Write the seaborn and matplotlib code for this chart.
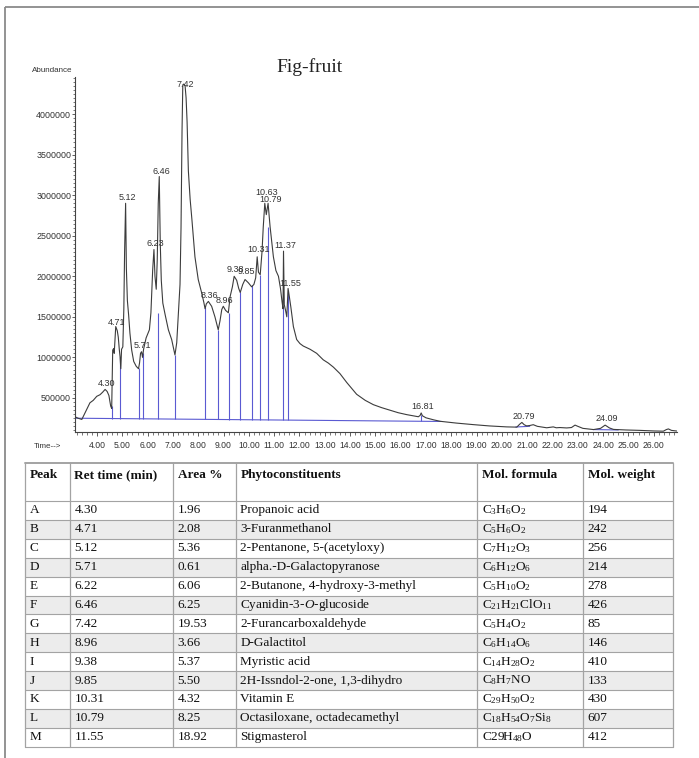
import numpy as np
import pandas as pd
import matplotlib
matplotlib.use("Agg")
import matplotlib.pyplot as plt
import seaborn as sns
from matplotlib.ticker import MultipleLocator, FuncFormatter, FormatStrFormatter
from matplotlib.patches import Rectangle
from matplotlib import font_manager as fm

# ---------------- chromatogram data ----------------
trace_time = [3.15, 3.25, 3.40, 3.50, 3.59, 3.72, 3.85, 3.99, 4.12, 4.22, 4.32, 4.40, 4.47, 4.54, 4.58,
              4.60, 4.62, 4.66, 4.68, 4.74, 4.80, 4.84, 4.88, 4.91, 4.94, 4.97, 5.02, 5.06, 5.09, 5.13,
              5.16, 5.20, 5.25, 5.30, 5.37, 5.45, 5.55, 5.64, 5.68, 5.72, 5.76, 5.80, 5.84, 5.94, 6.02,
              6.07, 6.13, 6.20, 6.25, 6.29, 6.34, 6.38, 6.42, 6.46, 6.50, 6.54, 6.60, 6.69, 6.82, 6.95,
              7.08, 7.15, 7.21, 7.28, 7.32, 7.36, 7.39, 7.43, 7.48, 7.52, 7.56, 7.61, 7.68, 7.75, 7.87,
              8.00, 8.14, 8.22, 8.27, 8.32, 8.40, 8.53, 8.66, 8.79, 8.86, 8.93, 8.99, 9.08, 9.19, 9.26,
              9.35, 9.42, 9.52, 9.60, 9.66, 9.76, 9.85, 9.98, 10.11, 10.20, 10.27, 10.33, 10.38, 10.45,
              10.52, 10.57, 10.63, 10.69, 10.76, 10.84, 10.97, 11.07, 11.17, 11.25, 11.31, 11.35, 11.37,
              11.40, 11.45, 11.50, 11.55, 11.60, 11.66, 11.76, 11.89, 12.02, 12.15, 12.42, 12.68, 12.94,
              13.14, 13.34, 13.60, 13.87, 14.26, 14.60, 14.92, 15.25, 15.58, 15.90, 16.24, 16.50, 16.70,
              16.77, 16.81, 16.86, 17.00, 17.30, 17.56, 18.20, 18.87, 19.50, 20.19, 20.59, 20.70, 20.79,
              20.88, 20.98, 21.10, 21.24, 21.40, 21.77, 22.03, 22.15, 22.29, 22.56, 22.75, 22.89, 23.00,
              23.20, 23.62, 23.90, 24.08, 24.25, 24.41, 24.90, 25.46, 26.00, 26.38, 26.50, 26.58, 26.70,
              26.91]
trace_abund = [265000, 250000, 235000, 300000, 356000, 440000, 470000, 520000, 540000, 570000, 605000,
               580000, 530000, 400000, 370000, 700000, 1090000, 1110000, 1050000, 1380000, 1330000,
               1250000, 1100000, 1010000, 860000, 1100000, 1130000, 1600000, 2300000, 2900000, 2100000,
               1700000, 1520000, 1300000, 1090000, 950000, 890000, 860000, 930000, 1050000, 1070000,
               1000000, 1100000, 1240000, 1300000, 1340000, 1550000, 2080000, 2330000, 2000000, 1840000,
               2200000, 2900000, 3230000, 2400000, 1950000, 1670000, 1530000, 1340000, 1220000, 1030000,
               1180000, 1510000, 1900000, 2600000, 3800000, 4360000, 4370000, 4350000, 4200000, 3900000,
               3300000, 2950000, 2700000, 2240000, 1960000, 1790000, 1680000, 1600000, 1660000, 1690000,
               1630000, 1500000, 1340000, 1450000, 1590000, 1630000, 1580000, 1550000, 1750000, 1870000,
               2000000, 1950000, 1850000, 1800000, 1900000, 1960000, 1920000, 1870000, 1900000, 1980000,
               2240000, 2050000, 2020000, 2300000, 2610000, 2900000, 2760000, 2900000, 2610000, 2240000,
               2070000, 2000000, 1850000, 1690000, 1600000, 2310000, 1650000, 1580000, 1500000, 1850000,
               1750000, 1620000, 1380000, 1220000, 1170000, 1140000, 1100000, 1050000, 970000, 930000,
               880000, 800000, 690000, 545000, 470000, 417000, 380000, 348000, 318000, 294000, 280000,
               268000, 285000, 315000, 280000, 255000, 230000, 212000, 190000, 171000, 155000, 143000,
               140000, 175000, 198000, 170000, 155000, 160000, 170000, 150000, 132000, 143000, 132000,
               135000, 130000, 135000, 165000, 150000, 125000, 110000, 125000, 165000, 130000, 112000,
               105000, 100000, 93000, 90000, 110000, 118000, 100000, 92000]

peak_labels = ["4.30", "4.71", "5.12", "5.71", "6.23", "6.46", "7.42", "8.36", "8.96", "9.38", "9.85",
               "10.31", "10.63", "10.79", "11.37", "11.55", "16.81", "20.79", "24.09"]
peak_label_height = [684000, 1430000, 2975000, 1144000, 2410000, 3290000, 4367000, 1760000, 1700000,
                     2080000, 2060000, 2330000, 3030000, 2950000, 2375000, 1916000, 389000, 266000, 245000]

baseline_segments_t = [[3.15, 17.60], [20.55, 21.10], [23.60, 24.60]]
baseline_segments_v = [[250000, 210000], [142000, 150000], [110000, 105000]]

drop_time = [4.58, 4.91, 5.67, 5.81, 6.42, 7.10, 8.27, 8.80, 9.20, 9.67, 10.12, 10.44, 10.76, 11.36, 11.53, 16.79]
drop_top = [397000, 1010000, 869000, 1050000, 1550000, 1030000, 1620000, 1340000, 1550000, 1810000,
            1890000, 2020000, 2610000, 1630000, 1830000, 290000]

# ---------------- table data ----------------
table_header = ["Peak", "Ret time (min)", "Area %", "Phytoconstituents", "Mol. formula", "Mol. weight"]
peak_ids = list("ABCDEFGHIJKLM")
ret_time = ["4.30", "4.71", "5.12", "5.71", "6.22", "6.46", "7.42", "8.96", "9.38", "9.85", "10.31", "10.79", "11.55"]
area_pct = ["1.96", "2.08", "5.36", "0.61", "6.06", "6.25", "19.53", "3.66", "5.37", "5.50", "4.32", "8.25", "18.92"]
constituents = ["Propanoic acid", "3-Furanmethanol", "2-Pentanone, 5-(acetyloxy)", "alpha.-D-Galactopyranose",
                "2-Butanone, 4-hydroxy-3-methyl", r"Cyanidin-3-$\mathit{O}$-glucoside", "2-Furancarboxaldehyde",
                "D-Galactitol", "Myristic acid", "2H-Issndol-2-one, 1,3-dihydro", "Vitamin E",
                "Octasiloxane, octadecamethyl", "Stigmasterol"]
mol_formula = [r"C$_3$H$_6$O$_2$", r"C$_5$H$_6$O$_2$", r"C$_7$H$_{12}$O$_3$", r"C$_6$H$_{12}$O$_6$",
               r"C$_5$H$_{10}$O$_2$", r"C$_{21}$H$_{21}$ClO$_{11}$", r"C$_5$H$_4$O$_2$", r"C$_6$H$_{14}$O$_6$",
               r"C$_{14}$H$_{28}$O$_2$", r"C$_8$H$_7$NO", r"C$_{29}$H$_{50}$O$_2$", r"C$_{18}$H$_{54}$O$_7$Si$_8$",
               r"C29H$_{48}$O"]
mol_weight = ["194", "242", "256", "214", "278", "426", "85", "146", "410", "133", "430", "607", "412"]

# ---------------- style ----------------
sns.set_theme(style="white")
avail = {f.name for f in fm.fontManager.ttflist}
SANS = "Liberation Sans" if "Liberation Sans" in avail else "DejaVu Sans"
NARROW = "Liberation Sans Narrow" if "Liberation Sans Narrow" in avail else SANS
SERIF = "Liberation Serif" if "Liberation Serif" in avail else "DejaVu Serif"
plt.rcParams["font.family"] = [SANS, "DejaVu Sans"]
plt.rcParams.update({
    "mathtext.fontset": "custom",
    "mathtext.rm": SERIF,
    "mathtext.it": SERIF + ":italic",
    "mathtext.bf": SERIF + ":bold",
    "mathtext.default": "rm",
})

W, H = 699, 758
fig = plt.figure(figsize=(W / 100, H / 100), dpi=100)
fig.patch.set_facecolor("white")

bg = fig.add_axes([0, 0, 1, 1])
bg.set_xlim(0, W)
bg.set_ylim(H, 0)
bg.axis("off")

# outer frame (top and left)
frame_c = "#8a8a8a"
bg.plot([5, W], [7, 7], color=frame_c, lw=1.3, solid_capstyle="butt")
bg.plot([5, 5], [7, H], color=frame_c, lw=1.3, solid_capstyle="butt")

# ---------------- chromatogram ----------------
ax_l, ax_r, ax_t, ax_b = 75, 677, 77, 432
ax = fig.add_axes([ax_l / W, 1 - ax_b / H, (ax_r - ax_l) / W, (ax_b - ax_t) / H])
ax.patch.set_alpha(0)

df = pd.DataFrame({"time": trace_time, "abundance": trace_abund})
sns.lineplot(data=df, x="time", y="abundance", ax=ax, color="#3c3c3c", lw=0.8,
             sort=False, estimator=None, zorder=3)

blue = "#5a5ad2"
for st, sv in zip(baseline_segments_t, baseline_segments_v):
    ax.plot(st, sv, color=blue, lw=0.8, zorder=2)
base_at_drop = np.interp(drop_time, baseline_segments_t[0], baseline_segments_v[0])
ax.vlines(drop_time, base_at_drop, drop_top, color=blue, lw=0.8, zorder=2)

for lab, hgt in zip(peak_labels, peak_label_height):
    ax.text(float(lab) + 0.07, hgt, lab, ha="center", va="center", fontsize=6.5,
            family=[NARROW, "DejaVu Sans"], color="#333333", zorder=4)

ax.set_xlim(3.13, 26.92)
ax.set_ylim(80000, 4457000)
ax.set_xlabel("")
ax.set_ylabel("")
for s in ["top", "right"]:
    ax.spines[s].set_visible(False)
for s in ["left", "bottom"]:
    ax.spines[s].set_color("#444444")
    ax.spines[s].set_linewidth(0.8)

ax.xaxis.set_major_locator(MultipleLocator(1))
ax.xaxis.set_minor_locator(MultipleLocator(0.2))
ax.xaxis.set_major_formatter(FormatStrFormatter("%.2f"))
ax.yaxis.set_major_locator(MultipleLocator(500000))
ax.yaxis.set_minor_locator(MultipleLocator(50000))
ax.yaxis.set_major_formatter(FuncFormatter(lambda v, p: f"{int(round(v))}"))
ax.tick_params(axis="x", which="major", length=3, width=0.6, color="#444444", pad=3.5,
               labelsize=6.2, labelcolor="#333333", bottom=True)
ax.tick_params(axis="x", which="minor", length=2, width=0.5, color="#444444", bottom=True)
ax.tick_params(axis="y", which="major", length=2.2, width=0.6, color="#444444", pad=0.6,
               labelsize=6.4, labelcolor="#333333", left=True)
ax.tick_params(axis="y", which="minor", length=1.5, width=0.5, color="#444444", left=True)
for t in ax.get_xticklabels():
    t.set_family([NARROW, "DejaVu Sans"])

bg.text(310, 67, "Fig-fruit", ha="center", va="center", fontsize=14, family=[SERIF, "DejaVu Serif"],
        color="#222222")
bg.text(52, 71, "Abundance", ha="center", va="center", fontsize=5.8, color="#333333")
bg.text(47, 446, "Time-->", ha="center", va="center", fontsize=5.8, color="#333333")

# ---------------- table ----------------
col_edges = [25, 70, 173, 236, 477, 583, 673]
tbl_top = 463
hdr_bottom = 501
row_h = 18.9
n_rows = len(peak_ids)
tbl_bottom = hdr_bottom + n_rows * row_h
line_c = "#a3a3a3"

for i in range(n_rows):
    if i % 2 == 1:
        bg.add_patch(Rectangle((col_edges[0], hdr_bottom + i * row_h), col_edges[-1] - col_edges[0], row_h,
                               facecolor="#ececec", edgecolor="none", zorder=1))

bg.plot([col_edges[0], col_edges[-1]], [tbl_top, tbl_top], color=line_c, lw=1.4, zorder=2)
for k in range(n_rows + 1):
    yy = hdr_bottom + k * row_h
    bg.plot([col_edges[0], col_edges[-1]], [yy, yy], color=line_c, lw=0.8, zorder=2)
for xx in col_edges:
    bg.plot([xx, xx], [tbl_top, tbl_bottom], color=line_c, lw=0.9, zorder=2)

pad = 4.5
for j, htxt in enumerate(table_header):
    bg.text(col_edges[j] + pad, 475, htxt, ha="left", va="center", fontsize=9.5, fontweight="bold",
            family=[SERIF, "DejaVu Serif"], color="#111111", zorder=3)

columns = [peak_ids, ret_time, area_pct, constituents, mol_formula, mol_weight]
for i in range(n_rows):
    yc = hdr_bottom + (i + 0.5) * row_h
    for j, col in enumerate(columns):
        bg.text(col_edges[j] + pad, yc, col[i], ha="left", va="center", fontsize=9.5,
                family=[SERIF, "DejaVu Serif"], color="#111111", zorder=3)

fig.savefig("out.png", dpi=100, facecolor="white")
